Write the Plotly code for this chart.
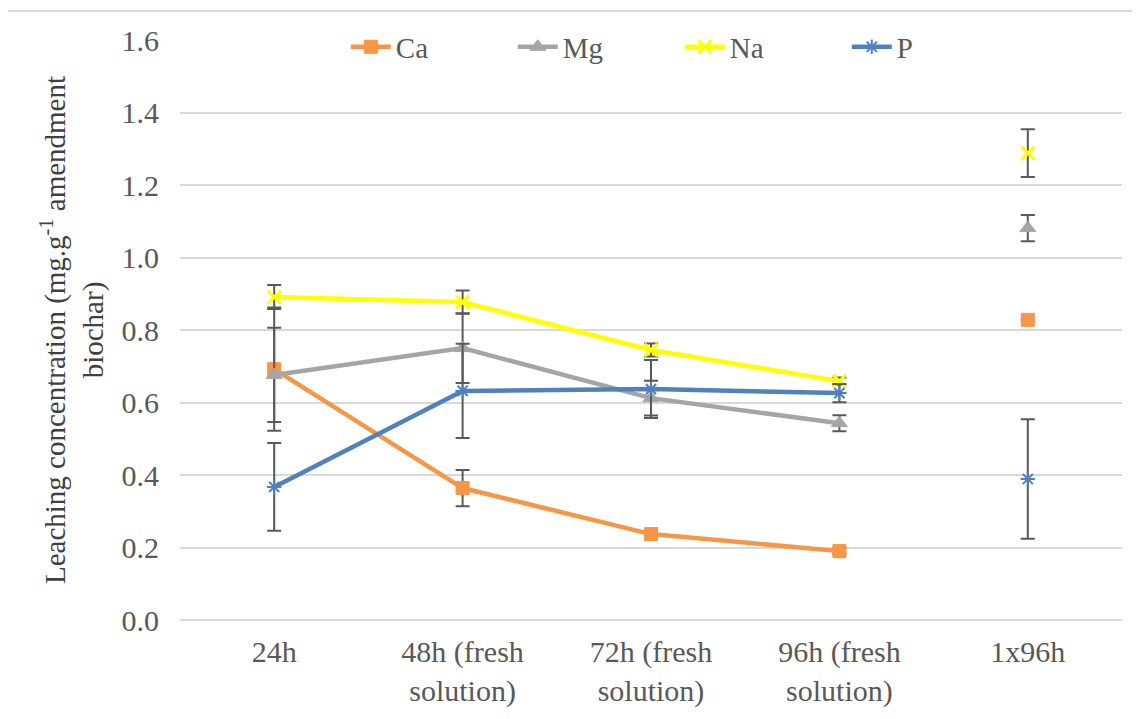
import plotly.graph_objects as go

categories = ["24h", "48h (fresh<br>solution)", "72h (fresh<br>solution)", "96h (fresh<br>solution)", "1x96h"]

ca = [0.692, 0.364, 0.237, 0.190, 0.828]
ca_err = [0.170, 0.050, 0.010, 0.008, 0.0]
mg = [0.676, 0.750, 0.612, 0.543, 1.081]
mg_err = [0.130, 0.096, 0.048, 0.022, 0.036]
na = [0.891, 0.877, 0.745, 0.659, 1.288]
na_err = [0.033, 0.032, 0.018, 0.010, 0.066]
p = [0.367, 0.632, 0.637, 0.626, 0.389]
p_err = [0.121, 0.130, 0.080, 0.025, 0.165]

series = [
    ("Ca", ca, ca_err, "rgb(247,150,70)", "square", 13, 1),
    ("Mg", mg, mg_err, "rgb(165,165,165)", "triangle-up", 14, 1),
    ("Na", na, na_err, "rgb(255,255,0)", "x-thin-open", 13, 3),
    ("P", p, p_err, "rgb(79,129,189)", "asterisk-open", 12, 2),
]

FONT = "Liberation Serif"
ERRC = "rgb(89,89,89)"
TXT = "rgb(89,89,89)"

fig = go.Figure()
for name, vals, errs, color, sym, size, lw in series:
    fig.add_trace(go.Scatter(
        x=categories[:4], y=vals[:4], name=name, mode="lines+markers",
        line=dict(color=color, width=4.5),
        marker=dict(symbol=sym, size=size, color=color, line=dict(color=color, width=lw)),
        error_y=dict(type="data", array=errs[:4], visible=True, color=ERRC, thickness=2, width=7),
    ))
    fig.add_trace(go.Scatter(
        x=categories[4:], y=vals[4:], name=name, mode="markers", showlegend=False,
        marker=dict(symbol=sym, size=size, color=color, line=dict(color=color, width=lw)),
        error_y=dict(type="data", array=errs[4:], visible=True, color=ERRC, thickness=2, width=7),
    ))

fig.update_layout(
    width=1140, height=719,
    margin=dict(l=172, r=26, t=32, b=107),
    paper_bgcolor="white", plot_bgcolor="white",
    font=dict(family=FONT, size=30, color=TXT),
    showlegend=True,
    legend=dict(orientation="h", x=0.176, y=0.988, yanchor="middle", xanchor="left",
                bgcolor="rgba(0,0,0,0)", font=dict(family=FONT, size=29, color=TXT),
                entrywidth=112, entrywidthmode="pixels", itemwidth=40),
    xaxis=dict(categoryorder="array", categoryarray=categories, range=[-0.5, 4.5],
               showgrid=False, showline=False, ticks="", ticklabelstandoff=11, automargin=False,
               tickfont=dict(size=30, family=FONT, color=TXT)),
    yaxis=dict(range=[0, 1.6], dtick=0.2, tickformat=".1f", showgrid=True,
               gridcolor="rgb(217,217,217)", gridwidth=2, zeroline=True,
               zerolinecolor="rgb(217,217,217)", zerolinewidth=2, showline=False,
               ticks="", ticklabelstandoff=20, automargin=False,
               tickfont=dict(size=30, family=FONT, color=TXT),
               title=dict(text="Leaching concentration (mg.g<sup>-1</sup> amendment<br>biochar)",
                          font=dict(size=29, family=FONT, color="rgb(64,64,64)"), standoff=9)),
    shapes=[dict(type="rect", xref="paper", yref="paper", x0=-0.1837, x1=1.2, y0=-0.4, y1=1.05,
                 line=dict(color="rgb(217,217,217)", width=2), layer="below")],
)

fig.write_html("out.html")
